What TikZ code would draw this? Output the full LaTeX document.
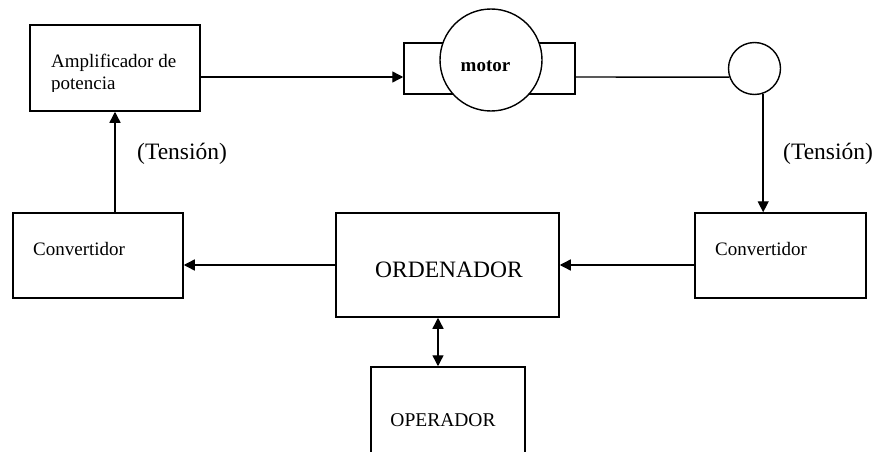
\documentclass[tikz,border=0pt]{standalone}
\usepackage{fontspec}
\setmainfont{Liberation Serif}
\usetikzlibrary{arrows.meta}
\begin{document}
\begin{tikzpicture}[x=1pt,y=-1pt,
  box/.style={draw,line width=1.5pt,rectangle,inner sep=0pt},
  disc/.style={draw,line width=1.4pt,circle,fill=white,inner sep=0pt},
  wire/.style={line width=1.4pt},
  arr/.style={wire,-{Triangle[length=11pt,width=11pt]}},
  darr/.style={wire,{Triangle[length=11pt,width=11pt]}-{Triangle[length=11pt,width=11pt]}},
  lbl/.style={inner sep=0pt,anchor=base west,font=\fontsize{19}{23}\selectfont},
  big/.style={inner sep=0pt,anchor=base west,font=\fontsize{23.5}{28}\selectfont}]
\useasboundingbox (0,0) rectangle (879,452);
\clip (0,0) rectangle (879,452);

% blocks
\node[box,minimum width=170pt,minimum height=86pt] (amp) at (115,68) {};
\node[box,minimum width=171pt,minimum height=51pt] (motorbox) at (489.5,68.5) {};
\node[disc,minimum size=102pt] (motor) at (491,60) {};
\node[disc,minimum size=52pt] (sensor) at (754.5,68.5) {};
\node[box,minimum width=170pt,minimum height=85pt] (convL) at (98,255.5) {};
\node[box,minimum width=223pt,minimum height=104pt] (ord) at (447.5,265) {};
\node[box,minimum width=171pt,minimum height=85pt] (convR) at (780.5,255.5) {};
\node[box,minimum width=154pt,minimum height=130pt] (oper) at (448,432) {};

% labels
\begin{scope}
  \clip (31,26) rectangle (199,92);
  \node[lbl] (ampA) at (51,67) {Amplificador de};
  \node[lbl] (ampB) at (51,90) {potencia};
\end{scope}
\node[inner sep=0pt,anchor=base,font=\fontsize{19}{23}\selectfont\bfseries] (motortxt) at (485.5,72) {motor};
\node[lbl] (convLtxt) at (33,255) {Convertidor};
\node[lbl] (convRtxt) at (715,255) {Convertidor};
\node[big,anchor=base] (ordtxt) at (449,277) {ORDENADOR};
\node[inner sep=0pt,anchor=base,font=\fontsize{19.5}{23}\selectfont] (opertxt) at (443,426) {OPERADOR};
\node[big] (tensL) at (137,159) {(Tensión)};
\node[big] (tensR) at (783,159) {(Tensión)};

% connectors
\coordinate (shaft) at (0,77);
\coordinate (link) at (438,0);
\draw[arr] (amp.east |- shaft) -- (motorbox.west |- shaft);
\draw[wire] (motorbox.east |- shaft) -- (sensor.199);
\draw[arr] (sensor.289) -- (sensor.289 |- convR.north);
\draw[arr] (amp.south |- convL.north) -- (amp.south);
\draw[arr] (convR.west |- ord.east) -- (ord.east);
\draw[arr] (ord.west) -- (convL.east |- ord.west);
\draw[darr] (ord.south -| link) -- (oper.north -| link);
\end{tikzpicture}
\end{document}
